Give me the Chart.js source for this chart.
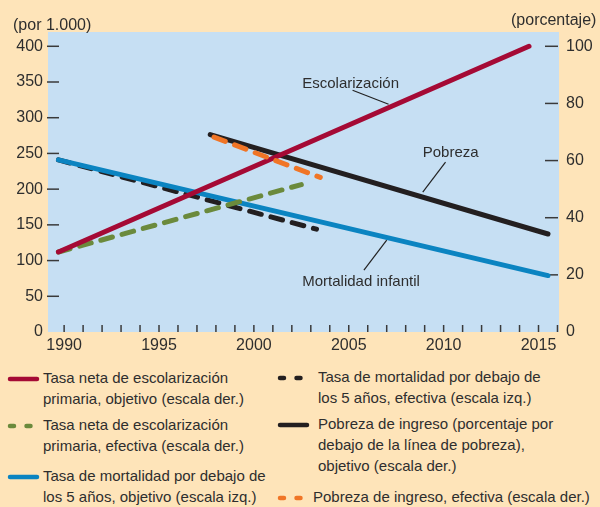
<!DOCTYPE html>
<html>
<head>
<meta charset="utf-8">
<script src="https://cdn.jsdelivr.net/npm/chart.js@4.4.1/dist/chart.umd.min.js"></script>
<style>
  body { margin: 0; width: 600px; height: 507px; overflow: hidden; position: relative;
         background: #fee4b9; font-family: "Liberation Sans", Arial, sans-serif; color: #2e2e2e; }
  #wrap { position: absolute; left: 0; top: 0; width: 600px; height: 356px; }
  .ax { position: absolute; font-size: 16px; line-height: 18px; white-space: nowrap; }
  .lg { position: absolute; font-size: 15px; line-height: 21px; white-space: pre-line; }
  .sw { position: absolute; }
</style>
</head>
<body>
<div id="wrap"><canvas id="c" width="600" height="356"></canvas></div>
<div class="ax" style="left:13px;top:16px">(por 1.000)</div>
<div class="ax" style="left:511px;top:11px">(porcentaje)</div>
<div id="legend"></div>
<script>
const escObjX = [1989.7, 2014.5]
const escObj = [28, 100]          // escala der.
const escEfeX = [1989.7, 2002.5]
const escEfe = [28, 51.6]         // escala der.
const morObjX = [1989.7, 2015.5]
const morObj = [241, 79]          // escala izq.
const morEfeX = [1989.7, 2003.3]
const morEfe = [241, 144]         // escala izq.
const pobObjX = [1997.7, 2015.5]
const pobObj = [69.1, 34.3]       // escala der.
const pobEfeX = [1997.9, 2003.5]
const pobEfe = [68.2, 54.1]       // escala der.

const xTicks = [1990, 1995, 2000, 2005, 2010, 2015]
const leftTicks = [0, 50, 100, 150, 200, 250, 300, 350, 400]
const rightTicks = [0, 20, 40, 60, 80, 100]

const labels = [
    "Tasa neta de escolarización\nprimaria, objetivo (escala der.)",
    "Tasa neta de escolarización\nprimaria, efectiva (escala der.)",
    "Tasa de mortalidad por debajo de\nlos 5 años, objetivo (escala izq.)",
    "Tasa de mortalidad por debajo de\nlos 5 años, efectiva (escala izq.)",
    "Pobreza de ingreso (porcentaje por\ndebajo de la línea de pobreza),\nobjetivo (escala der.)",
    "Pobreza de ingreso, efectiva (escala der.)"
]

// text labels on the plot, positioned in data units (year, left scale)
const notes = [
    { text: "Escolarización", x: 2002.55, y: 348, from: [2005.2, 338.5], to: [2007.1, 318.9] },
    { text: "Pobreza", x: 2008.9, y: 250.3, from: [2010.1, 237.8], to: [2008.9, 195.8] },
    { text: "Mortalidad infantil", x: 2002.55, y: 69.9, from: [2005.8, 86.7], to: [2007.0, 128.7] }
]

const colors = ["#a50a35", "#6b8a3c", "#0b84c1", "#231f20", "#231f20", "#f07526"]
const textColor = "#2e2e2e"

function pts (xs, ys) {
    return xs.map((x, i) => ({ x: x, y: ys[i] }))
}

const series = [
    { data: pts(escObjX, escObj), axis: "yR", dash: [] },
    { data: pts(escEfeX, escEfe), axis: "yR", dash: [12, 10] },
    { data: pts(morObjX, morObj), axis: "yL", dash: [] },
    { data: pts(morEfeX, morEfe), axis: "yL", dash: [12, 10] },
    { data: pts(pobObjX, pobObj), axis: "yR", dash: [] },
    { data: pts(pobEfeX, pobEfe), axis: "yR", dash: [12, 10] }
]

const decor = {
    id: "decor",
    beforeDraw (chart) {
        const { ctx, chartArea: a } = chart
        ctx.save()
        ctx.fillStyle = "#c6dff3"
        ctx.fillRect(a.left, a.top, a.right - a.left, a.bottom - a.top)
        ctx.restore()
    },
    beforeDatasetsDraw (chart) {
        const { ctx, chartArea: a, scales } = chart
        ctx.save()
        ctx.strokeStyle = "#3a3a3a"
        ctx.lineWidth = 1.5
        const seg = (x1, y1, x2, y2) => {
            ctx.beginPath(); ctx.moveTo(x1, y1); ctx.lineTo(x2, y2); ctx.stroke()
        }
        leftTicks.forEach(v => {
            if (!v) return
            const y = scales.yL.getPixelForValue(v)
            seg(a.left - 1, y, a.left + 11, y)
        })
        rightTicks.forEach(v => {
            if (!v) return
            const y = scales.yR.getPixelForValue(v)
            seg(a.right - 14, y, a.right - 1, y)
        })
        for (let yr = 1990; yr <= 2016; yr++) {
            const x = scales.x.getPixelForValue(yr)
            seg(x, a.bottom - 7, x, a.bottom)
        }
        // annotations
        ctx.fillStyle = textColor
        ctx.font = "15px 'Liberation Sans', Arial, sans-serif"
        ctx.textBaseline = "middle"
        ctx.strokeStyle = "#222"
        ctx.lineWidth = 1.2
        notes.forEach(n => {
            ctx.fillText(n.text, scales.x.getPixelForValue(n.x), scales.yL.getPixelForValue(n.y))
            seg(scales.x.getPixelForValue(n.from[0]), scales.yL.getPixelForValue(n.from[1]),
                scales.x.getPixelForValue(n.to[0]), scales.yL.getPixelForValue(n.to[1]))
        })
        ctx.restore()
    }
}

Chart.defaults.font.family = "'Liberation Sans', Arial, sans-serif"
Chart.defaults.color = textColor

const config = {
    type: "line",
    data: {
        datasets: series.map((s, i) => ({
            label: labels[i],
            data: s.data,
            yAxisID: s.axis,
            borderColor: colors[i],
            borderWidth: 5,
            borderDash: s.dash,
            borderCapStyle: "round",
            pointRadius: 0,
            tension: 0,
            order: i === 5 ? -1 : i
        }))
    },
    options: {
        responsive: false,
        animation: false,
        layout: { padding: { top: 32, left: 0, right: 0, bottom: 0 } },
        plugins: { legend: { display: false }, tooltip: { enabled: false } },
        scales: {
            x: {
                type: "linear",
                min: 1989.15,
                max: 2016.08,
                grid: { display: false, drawTicks: false },
                border: { display: false },
                afterBuildTicks: sc => { sc.ticks = xTicks.map(v => ({ value: v })) },
                afterFit: sc => { sc.height = 24 },
                ticks: { padding: 4, font: { size: 16 }, color: textColor, callback: v => String(v), maxRotation: 0 }
            },
            yL: {
                position: "left",
                min: 0,
                max: 420,
                grid: { display: false, drawTicks: false },
                border: { display: false },
                afterBuildTicks: sc => { sc.ticks = leftTicks.map(v => ({ value: v })) },
                afterFit: sc => { sc.width = 48 },
                ticks: { padding: 5, font: { size: 16 }, color: textColor }
            },
            yR: {
                position: "right",
                min: 0,
                max: 105,
                grid: { display: false, drawTicks: false },
                border: { display: false },
                afterBuildTicks: sc => { sc.ticks = rightTicks.map(v => ({ value: v })) },
                afterFit: sc => { sc.width = 41 },
                ticks: { padding: 7, font: { size: 16 }, color: textColor }
            }
        }
    },
    plugins: [decor]
}

const chart = new Chart(document.getElementById("c").getContext("2d"), config)

// html legend built from the datasets
const legendPos = [
    { sx: 8, tx: 43, top: 367 },
    { sx: 8, tx: 43, top: 414 },
    { sx: 8, tx: 43, top: 465 },
    { sx: 278, tx: 318, top: 366 },
    { sx: 278, tx: 318, top: 413 },
    { sx: 278, tx: 313, top: 486 }
]
const legend = document.getElementById("legend")
chart.data.datasets.forEach((ds, i) => {
    const p = legendPos[i]
    const sw = document.createElement("canvas")
    sw.width = 34; sw.height = 10
    sw.className = "sw"
    sw.style.left = (p.sx - 2) + "px"
    sw.style.top = (p.top + 10 - 3) + "px"
    const c = sw.getContext("2d")
    c.strokeStyle = ds.borderColor
    c.lineWidth = 4.5
    c.lineCap = "round"
    if (ds.borderDash.length) c.setLineDash([4, 12.5])
    c.beginPath(); c.moveTo(4, 5); c.lineTo(31, 5); c.stroke()
    legend.appendChild(sw)
    const t = document.createElement("div")
    t.className = "lg"
    t.style.left = p.tx + "px"
    t.style.top = p.top + "px"
    t.textContent = ds.label
    legend.appendChild(t)
})
</script>
</body>
</html>
